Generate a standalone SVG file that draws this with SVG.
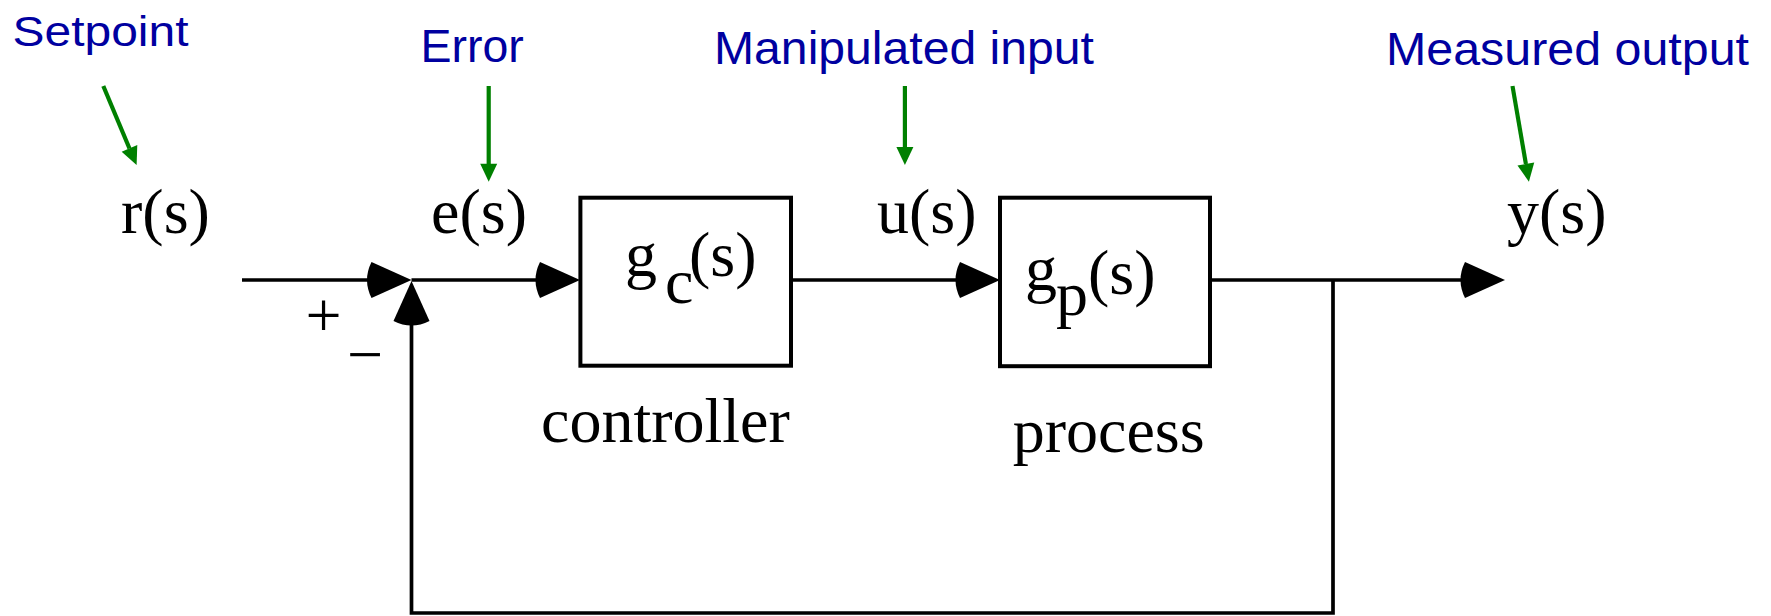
<svg xmlns="http://www.w3.org/2000/svg" width="1771" height="616" viewBox="0 0 1771 616">
<style>
.lbl{font-family:"Liberation Sans",Arial,sans-serif;fill:#0000A0}
.math{font-family:"Liberation Serif","Times New Roman",serif;font-size:64px;fill:#000}
.ln{stroke:#000;stroke-width:3.7;fill:none}
.box{stroke:#000;stroke-width:4;fill:#fff}
.gl{stroke:#008000;stroke-width:4.2;fill:none}
.ah{fill:#000}
.gh{fill:#008000}
</style>
<defs>
<path id="bh" d="M0,0 L-40,-18 Q-49,0 -40,18 Z"/>
<path id="ghd" d="M0,0 L-18,-8.5 L-18,8.5 Z"/>
</defs>
<rect width="1771" height="616" fill="#fff"/>

<g id="annotations">
<text class="lbl" x="12.5" y="45.7" font-size="43" textLength="176" lengthAdjust="spacingAndGlyphs">Setpoint</text>
<text class="lbl" x="420.5" y="61.7" font-size="46.5">Error</text>
<text class="lbl" x="714" y="64.3" font-size="45.5" textLength="380" lengthAdjust="spacingAndGlyphs">Manipulated input</text>
<text class="lbl" x="1386" y="65" font-size="46.5" textLength="363" lengthAdjust="spacingAndGlyphs">Measured output</text>
<line class="gl" x1="103.3" y1="86" x2="129.5" y2="148.5"/>
<use href="#ghd" class="gh" transform="translate(136.6,165) rotate(66.7)"/>
<line class="gl" x1="488.7" y1="86" x2="488.7" y2="164"/>
<use href="#ghd" class="gh" transform="translate(488.7,181.7) rotate(90)"/>
<line class="gl" x1="904.9" y1="86" x2="904.9" y2="148"/>
<use href="#ghd" class="gh" transform="translate(904.9,165) rotate(90)"/>
<line class="gl" x1="1512.5" y1="86" x2="1525.9" y2="164"/>
<use href="#ghd" class="gh" transform="translate(1528.9,181.7) rotate(80.3)"/>
</g>

<g id="signals">
<text class="math" x="121" y="233">r(s)</text>
<text class="math" x="431" y="233">e(s)</text>
<text class="math" x="877" y="233">u(s)</text>
<text class="math" x="1507" y="233">y(s)</text>
<text class="math" x="305.5" y="337">+</text>
<text class="math" x="347" y="376">−</text>
</g>

<g id="connectors">
<line class="ln" x1="242" y1="280" x2="372" y2="280"/>
<line class="ln" x1="411.5" y1="280" x2="540" y2="280"/>
<line class="ln" x1="791" y1="280" x2="960" y2="280"/>
<line class="ln" x1="1210" y1="280" x2="1465" y2="280"/>
<polyline class="ln" points="1333,280 1333,613 411.5,613 411.5,320"/>
<use href="#bh" class="ah" transform="translate(411.5,280)"/>
<use href="#bh" class="ah" transform="translate(580,280)"/>
<use href="#bh" class="ah" transform="translate(1000,280)"/>
<use href="#bh" class="ah" transform="translate(1505,280)"/>
<use href="#bh" class="ah" transform="translate(411.5,281) rotate(-90)"/>
</g>

<g id="controller">
<rect class="box" x="580.4" y="197.7" width="210.6" height="168"/>
<text class="math" x="625" y="276">g</text>
<text class="math" x="665" y="303">c</text>
<text class="math" x="689" y="276">(s)</text>
<text class="math" x="541" y="441.7">controller</text>
</g>

<g id="process">
<rect class="box" x="1000" y="197.7" width="210" height="168.5"/>
<text class="math" x="1025" y="290">g</text>
<text class="math" x="1056" y="315">p</text>
<text class="math" x="1088" y="294">(s)</text>
<text class="math" x="1012.7" y="451.7">process</text>
</g>
</svg>
